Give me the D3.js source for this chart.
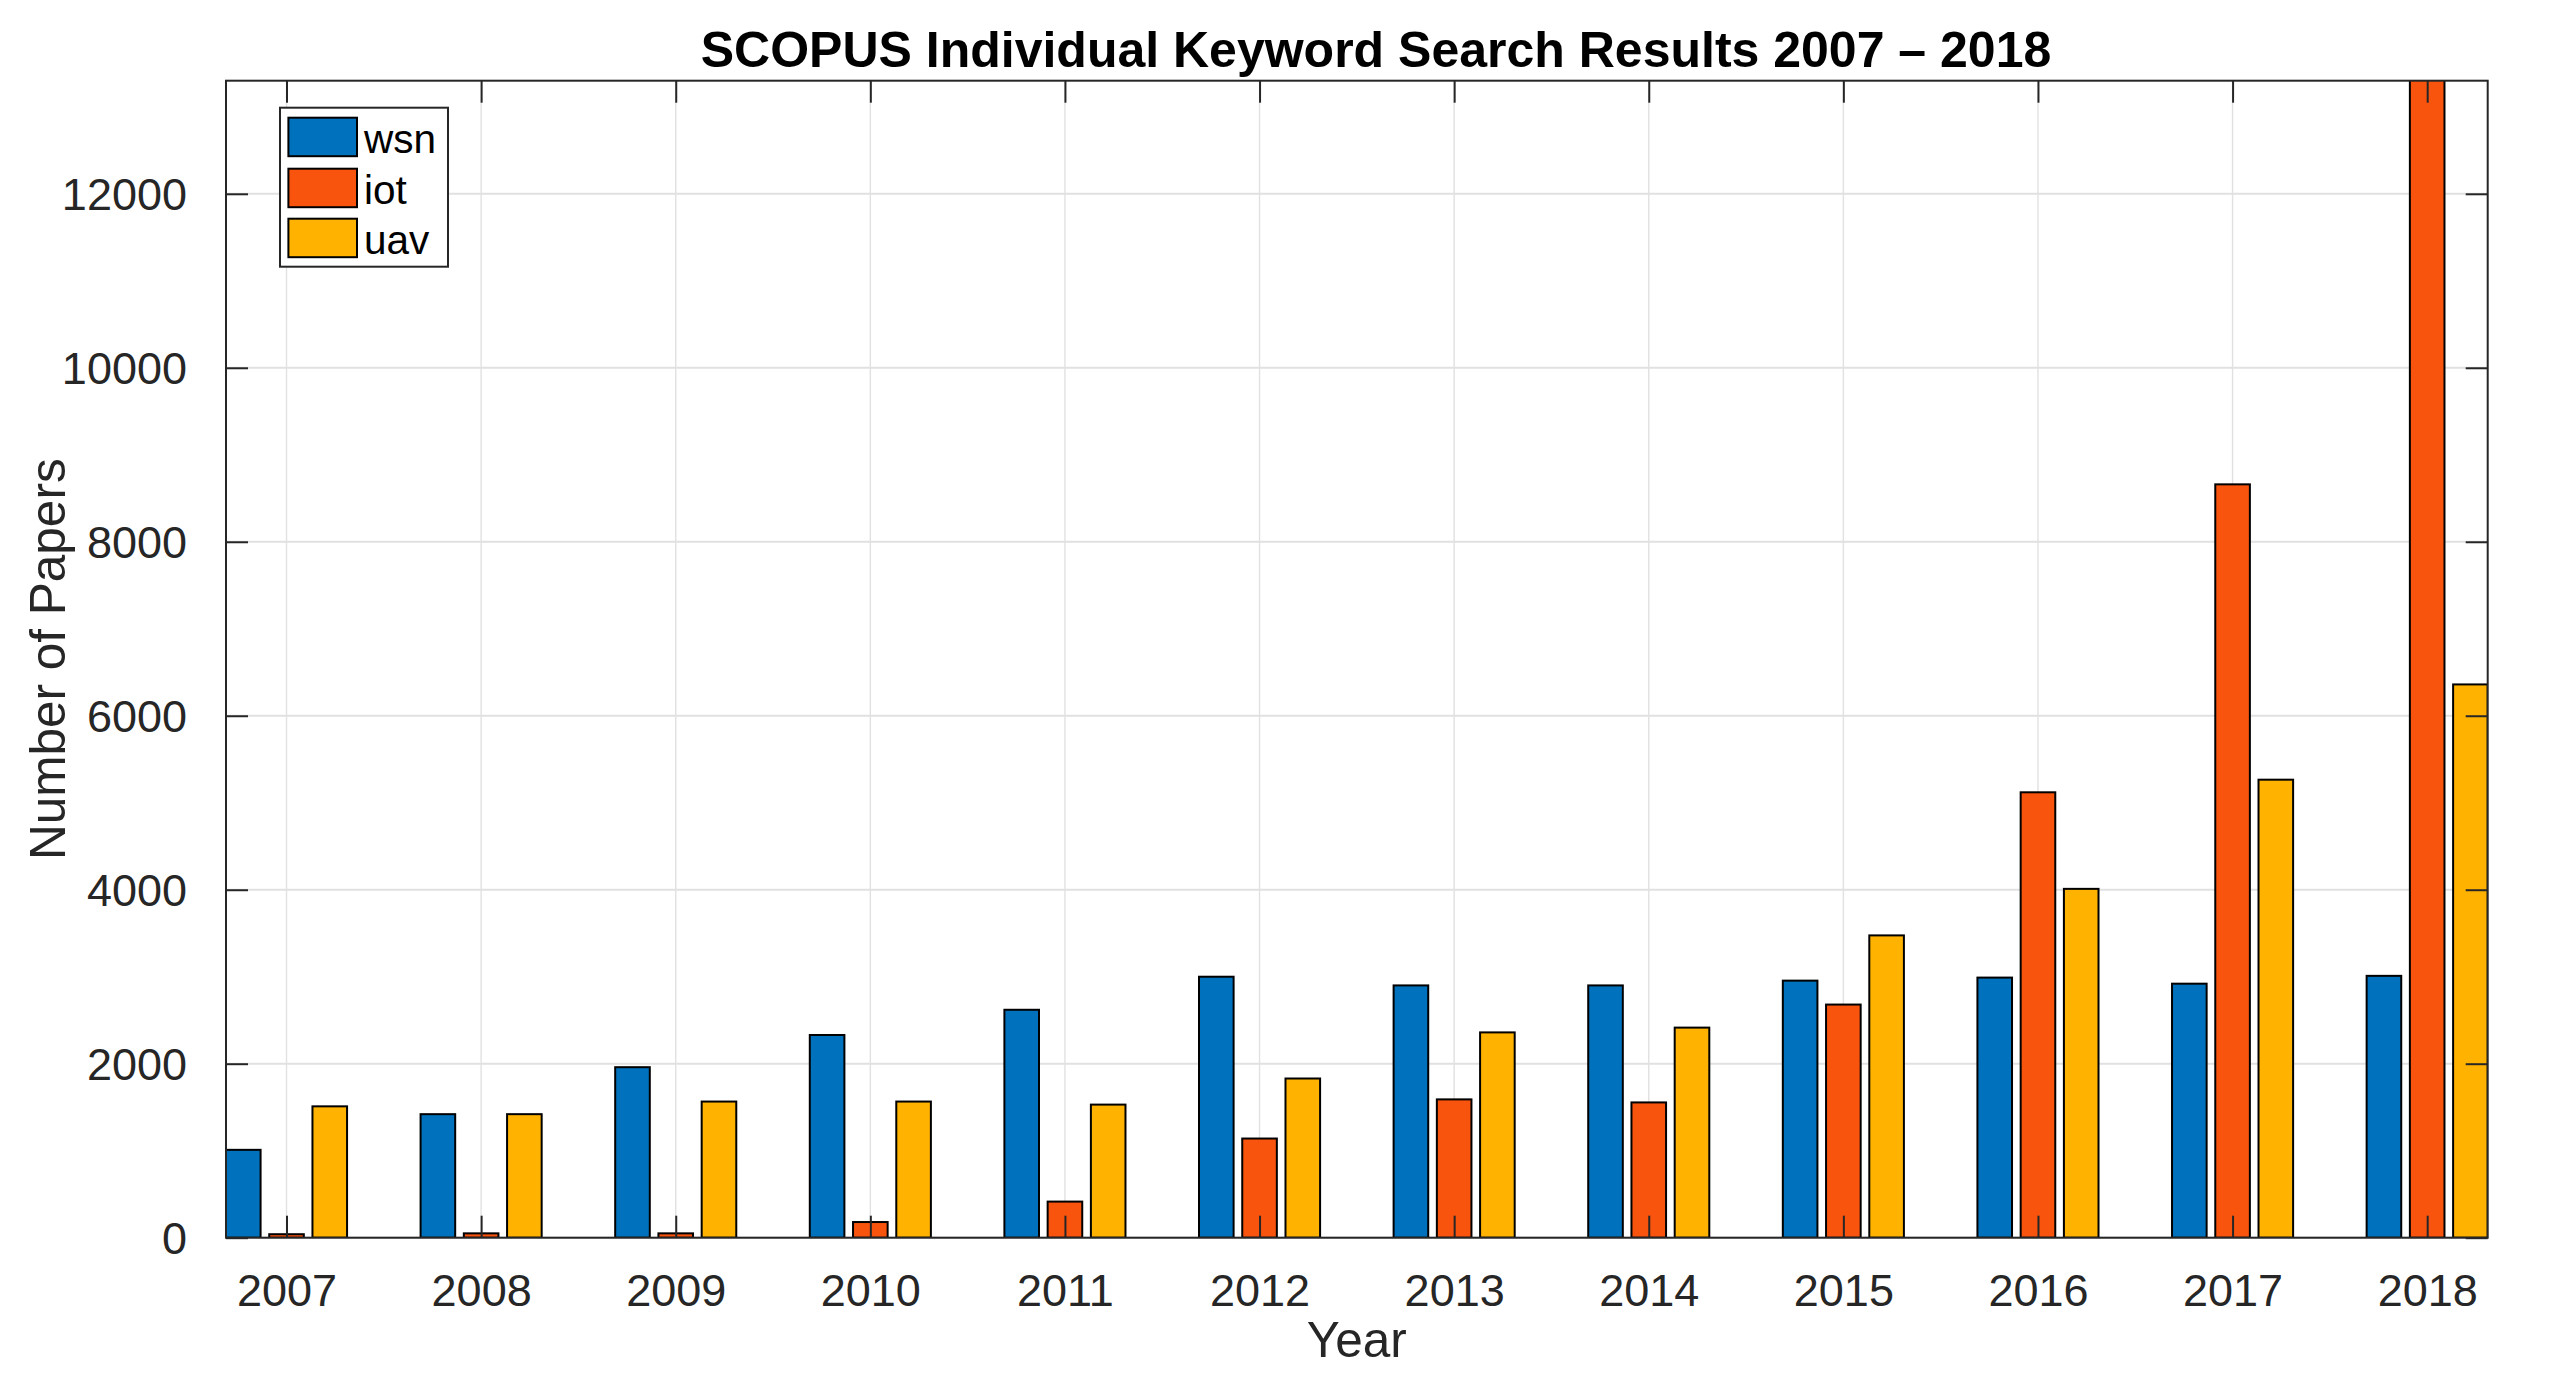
<!DOCTYPE html>
<html>
<head>
<meta charset="utf-8">
<script src="https://cdn.jsdelivr.net/npm/d3@7"></script>
<style>
  html, body { margin: 0; padding: 0; background: #fff; }
  svg { display: block; }
  text { font-family: "Liberation Sans", Arial, Helvetica, sans-serif; }
</style>
</head>
<body>
<svg id="chart" width="2549" height="1398"></svg>
<script>
// ---- data ----
const years = [2007, 2008, 2009, 2010, 2011, 2012, 2013, 2014, 2015, 2016, 2017, 2018];
const seriesNames = ["wsn", "iot", "uav"];
const wsn = [1010, 1420, 1960, 2330, 2620, 3000, 2900, 2900, 2955, 2990, 2920, 3010];
const iot = [40, 50, 50, 180, 415, 1140, 1590, 1555, 2680, 5120, 8660, 14500];
const uav = [1510, 1420, 1565, 1565, 1530, 1830, 2360, 2415, 3475, 4010, 5265, 6360];
const yTicks = [0, 2000, 4000, 6000, 8000, 10000, 12000];
const xTickLabels = ["2007", "2008", "2009", "2010", "2011", "2012", "2013", "2014", "2015", "2016", "2017", "2018"];
const colors = ["#0072BD", "#F9540D", "#FFB300"];
const titleText = "SCOPUS Individual Keyword Search Results 2007 \u2013 2018";
const xLabelText = "Year";
const yLabelText = "Number of Papers";

// ---- layout ----
const L = 226, R = 2487.7, T = 80.7, B = 1237.7;
const svg = d3.select("#chart");
const axisColor = "#262626";

const x = d3.scaleLinear().domain([2006.689, 2018.311]).range([L, R]);
const y = d3.scaleLinear().domain([0, 13300]).range([B, T]);
const groupOffset = 0.2222, barW = 0.1778;

const series = [wsn, iot, uav];

// clip
svg.append("defs").append("clipPath").attr("id", "plotClip")
  .append("rect").attr("x", L).attr("y", T).attr("width", R - L).attr("height", B - T);

// grid
const grid = svg.append("g");
grid.selectAll("line.hg").data(yTicks).join("line")
  .attr("x1", L).attr("x2", R)
  .attr("y1", d => y(d)).attr("y2", d => y(d))
  .attr("stroke", "#e1e1e1").attr("stroke-width", 2);
grid.selectAll("line.vg").data(years).join("line")
  .attr("y1", T).attr("y2", B)
  .attr("x1", d => x(d)).attr("x2", d => x(d))
  .attr("stroke", "#e1e1e1").attr("stroke-width", 1.4);

// bars
const barsG = svg.append("g").attr("clip-path", "url(#plotClip)");
series.forEach((vals, si) => {
  barsG.append("g").selectAll("rect").data(vals).join("rect")
    .attr("x", (d, i) => x(years[i] + (si - 1) * groupOffset - barW / 2))
    .attr("width", (d, i) => x(years[i] + barW) - x(years[i]))
    .attr("y", d => y(d))
    .attr("height", d => y(0) - y(d))
    .attr("fill", colors[si])
    .attr("stroke", "#000").attr("stroke-width", 2);
});

// axes box + ticks (inward, on all sides)
const tickLen = 22;
const axG = svg.append("g");
const xAxisB = d3.axisBottom(x).tickValues(years).tickSize(-tickLen).tickFormat((d, i) => xTickLabels[i]).tickPadding(tickLen + 14);
const xAxisT = d3.axisTop(x).tickValues(years).tickSize(-tickLen).tickFormat("");
const yAxisL = d3.axisLeft(y).tickValues(yTicks).tickSize(-tickLen).tickFormat(d3.format("d")).tickPadding(tickLen + 17);
const yAxisR = d3.axisRight(y).tickValues(yTicks).tickSize(-tickLen).tickFormat("");

function styleAxis(g) {
  g.select(".domain").remove();
  g.selectAll(".tick line").attr("stroke", axisColor).attr("stroke-width", 2);
  g.selectAll(".tick text").attr("fill", axisColor).style("font-size", "45px")
    .style("font-family", "'Liberation Sans', Arial, Helvetica, sans-serif");
}
const gxB = axG.append("g").attr("transform", `translate(0,${B})`).call(xAxisB).call(styleAxis);
gxB.selectAll(".tick text").attr("dy", "0.71em");
axG.append("g").attr("transform", `translate(0,${T})`).call(xAxisT).call(styleAxis);
const gyL = axG.append("g").attr("transform", `translate(${L},0)`).call(yAxisL).call(styleAxis);
gyL.selectAll(".tick text").attr("dy", "0.36em");
axG.append("g").attr("transform", `translate(${R},0)`).call(yAxisR).call(styleAxis);

axG.append("rect").attr("x", L).attr("y", T).attr("width", R - L).attr("height", B - T)
  .attr("fill", "none").attr("stroke", axisColor).attr("stroke-width", 2);

// title & labels
svg.append("text").attr("x", 1376).attr("y", 66.7).attr("text-anchor", "middle")
  .style("font-size", "50px").style("font-weight", "bold").attr("fill", "#000").text(titleText);
svg.append("text").attr("x", (L + R) / 2).attr("y", 1357).attr("text-anchor", "middle")
  .style("font-size", "49.5px").attr("fill", axisColor).text(xLabelText);
svg.append("text").attr("transform", `translate(65,${(T + B) / 2}) rotate(-90)`).attr("text-anchor", "middle")
  .style("font-size", "49.5px").attr("fill", axisColor).text(yLabelText);

// legend
const lg = svg.append("g");
lg.append("rect").attr("x", 280).attr("y", 107.7).attr("width", 168).attr("height", 159)
  .attr("fill", "#fff").attr("stroke", axisColor).attr("stroke-width", 2);
const swTop = [117.7, 168.7, 218.7];
seriesNames.forEach((nm, i) => {
  lg.append("rect").attr("x", 288.4).attr("y", swTop[i]).attr("width", 68.6).attr("height", 38.5)
    .attr("fill", colors[i]).attr("stroke", "#000").attr("stroke-width", 2);
  lg.append("text").attr("x", 364).attr("y", swTop[i] + 35.5)
    .style("font-size", "40.5px").attr("fill", "#000").text(nm);
});
</script>
</body>
</html>
